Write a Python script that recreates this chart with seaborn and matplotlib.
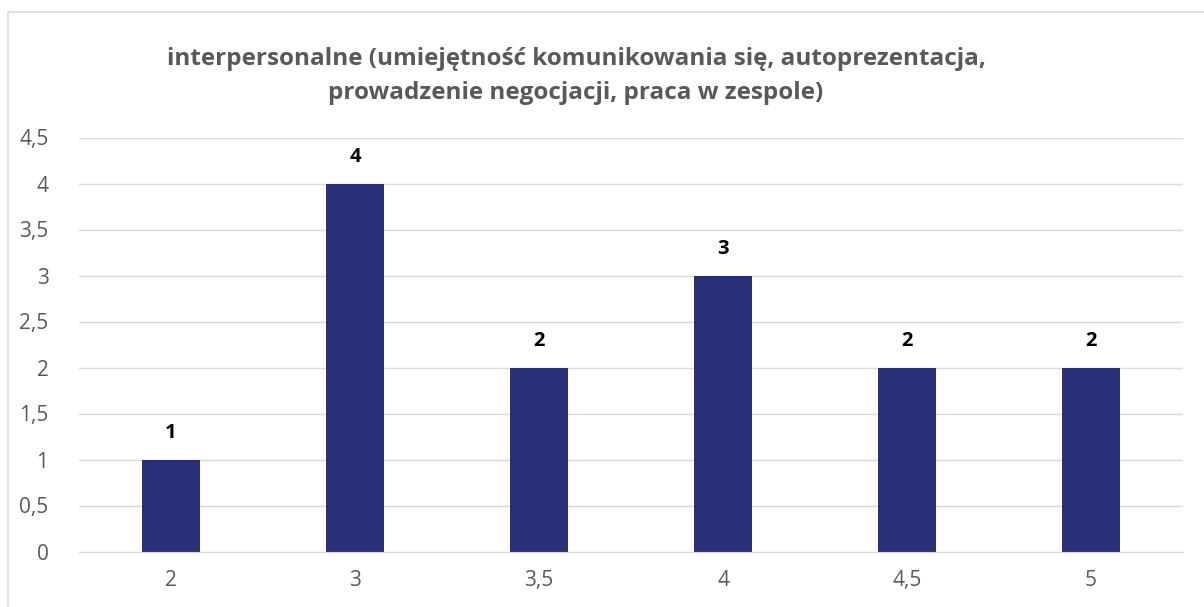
import matplotlib.pyplot as plt
import matplotlib.patches as mpatches
import pandas as pd
import seaborn as sns

# data
grades = ["2", "3", "3,5", "4", "4,5", "5"]
counts = [1, 4, 2, 3, 2, 2]
yticks = [0, 0.5, 1, 1.5, 2, 2.5, 3, 3.5, 4, 4.5]
title = ("interpersonalne (umiejętność komunikowania się, autoprezentacja,\n"
         "prowadzenie negocjacji, praca w zespole)")

df = pd.DataFrame({"ocena": grades, "liczba": counts})

sns.set_style("white")
plt.rcParams["font.family"] = ["Open Sans", "DejaVu Sans"]

fig = plt.figure(figsize=(12.04, 6.07), dpi=100)
ax = fig.add_axes([79 / 1204, 1 - 551.5 / 607, 1104 / 1204, 414 / 607])

sns.barplot(data=df, x="ocena", y="liczba", order=grades, color="#283078",
            width=0.31, saturation=1, linewidth=0, ax=ax)

ax.set_ylim(0, 4.5)
ax.set_yticks(yticks)
ax.set_yticklabels([("%g" % t).replace(".", ",") for t in yticks])
ax.yaxis.grid(True, color="#d9d9d9", linewidth=1)
ax.set_axisbelow(True)
for s in ["top", "right", "left"]:
    ax.spines[s].set_visible(False)
ax.spines["bottom"].set_color("#d9d9d9")
ax.tick_params(axis="both", length=0, labelsize=15, colors="#595959")
ax.tick_params(axis="y", pad=22)
ax.tick_params(axis="x", pad=13)
ax.set_xlabel("")
ax.set_ylabel("")

for c in ax.containers:
    ax.bar_label(c, labels=[str(v) for v in counts], padding=12,
                 fontsize=14.5, fontweight="bold", color="black")

fig.text(576 / 1204, 1 - 76 / 607, title, ha="center", va="center",
         fontsize=17.5, fontweight="bold", color="#595959", linespacing=1.55)

# chart frame like in the spreadsheet
fig.patches.append(mpatches.Rectangle((8 / 1204, -0.01), 1.2, 1 - 12 / 607 + 0.01,
                                      transform=fig.transFigure, fill=False,
                                      edgecolor="#d9d9d9", linewidth=1.2))

plt.savefig("out.png", dpi=100)
